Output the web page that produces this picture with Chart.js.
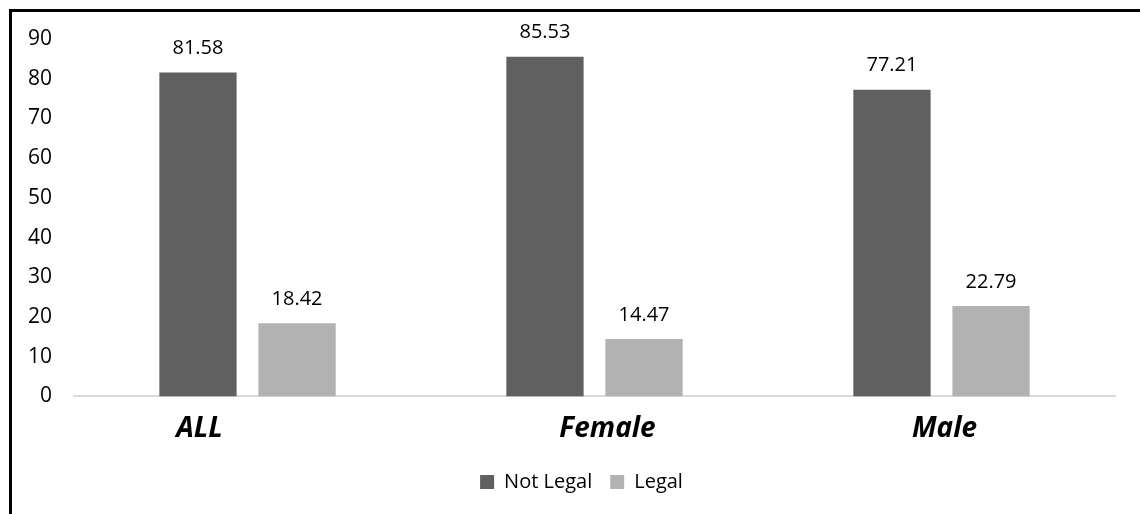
<!DOCTYPE html>
<html>
<head>
<meta charset="utf-8">
<script src="https://cdn.jsdelivr.net/npm/chart.js@4.4.1/dist/chart.umd.min.js"></script>
<style>
  html, body { margin: 0; padding: 0; background: #fff; }
  #wrap { position: relative; width: 1140px; height: 514px; }
  #frame { position: absolute; left: 9px; top: 9px; right: 0; bottom: 0;
           border-left: 3px solid #000; border-top: 3px solid #000; pointer-events: none; }
</style>
</head>
<body>
<div id="wrap">
  <canvas id="chart" width="1140" height="514"></canvas>
  <div id="frame"></div>
</div>
<script>
// Data
const categories = ['ALL', 'Female', 'Male'];
const notLegal = [81.58, 85.53, 77.21];
const legal = [18.42, 14.47, 22.79];
const yTicks = [0, 10, 20, 30, 40, 50, 60, 70, 80, 90];

// Category labels in the original sit a little off-centre
const labelShift = [-48, 13, 3];

const FONT = "'Open Sans', sans-serif";

// value labels above each bar
const valueLabels = {
    id: 'valueLabels',
    afterDatasetsDraw(chart) {
        const ctx = chart.ctx;
        ctx.save();
        ctx.font = `20px ${FONT}`;
        ctx.fillStyle = '#000';
        ctx.textAlign = 'center';
        ctx.textBaseline = 'middle';
        chart.data.datasets.forEach((ds, i) => {
            chart.getDatasetMeta(i).data.forEach((bar, j) => {
                ctx.fillText(ds.data[j].toFixed(2), bar.x, bar.y - 24);
            });
        });
        ctx.restore();
    }
};

// category labels drawn by hand so they can be shifted
const catLabels = {
    id: 'catLabels',
    afterLayout(chart) {
        // legend sits a bit right of centre in the original
        chart.legend.left += 17;
        chart.legend.right += 17;
    },
    afterDraw(chart) {
        const ctx = chart.ctx;
        const xs = chart.scales.x;
        ctx.save();
        ctx.font = `italic bold 28px ${FONT}`;
        ctx.fillStyle = '#000';
        ctx.textAlign = 'center';
        ctx.textBaseline = 'middle';
        categories.forEach((c, i) => {
            ctx.fillText(c, xs.getPixelForValue(i) + labelShift[i], chart.chartArea.bottom + 33);
        });
        ctx.restore();
    }
};

new Chart(document.getElementById('chart').getContext('2d'), {
    type: 'bar',
    data: {
        labels: categories,
        datasets: [
            { label: 'Not Legal', data: notLegal, backgroundColor: '#606060' },
            { label: 'Legal', data: legal, backgroundColor: '#b2b2b2' }
        ]
    },
    options: {
        responsive: false,
        animation: false,
        devicePixelRatio: 1,
        categoryPercentage: 0.571,
        barPercentage: 0.78,
        layout: { padding: { left: 14, right: 25, top: 39, bottom: 12 } },
        plugins: {
            legend: {
                position: 'bottom',
                labels: {
                    boxWidth: 14,
                    boxHeight: 14,
                    padding: 18,
                    color: '#000',
                    font: { family: FONT, size: 20 }
                }
            },
            tooltip: { enabled: false }
        },
        scales: {
            y: {
                min: 0,
                max: 90,
                afterBuildTicks: (s) => { s.ticks = yTicks.map(v => ({ value: v })); },
                grid: { display: false },
                border: { display: false },
                ticks: { color: '#000', padding: 14, font: { family: FONT, size: 21 } }
            },
            x: {
                grid: { display: false },
                border: { color: '#d9d9d9', width: 2 },
                ticks: { color: 'rgba(0,0,0,0)', padding: 8, font: { family: FONT, size: 28, style: 'italic', weight: 'bold' } }
            }
        }
    },
    plugins: [valueLabels, catLabels]
});
</script>
</body>
</html>
